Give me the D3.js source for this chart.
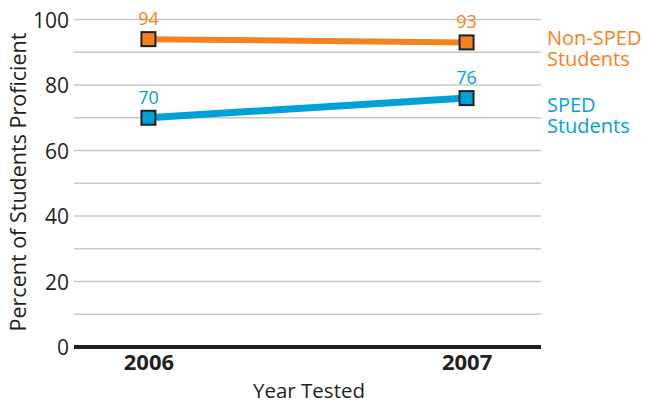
<!DOCTYPE html>
<html>
<head>
<meta charset="utf-8">
<script src="https://cdn.jsdelivr.net/npm/d3@7"></script>
<style>
  body { margin: 0; background: #fff; }
  text { font-family: "Open Sans", "Noto Sans", sans-serif; }
</style>
</head>
<body>
<script>
// data
var years = ["2006", "2007"];
var non_sped = [94, 93];
var sped = [70, 76];
var y_ticks = [0, 20, 40, 60, 80, 100];
var grid_ticks = [10, 20, 30, 40, 50, 60, 70, 80, 90, 100];

var ink = "#231f20",
    orange = "#f58220",
    blue = "#00a1d8";

var svg_w = 646, svg_h = 404,
    plot_left = 74, plot_right = 541, plot_top = 19.5, plot_bottom = 347;

var svg = d3.select("body").append("svg")
        .attr("width", svg_w)
        .attr("height", svg_h);

var scale_x = d3.scalePoint()
        .domain(years)
        .range([plot_left, plot_right])
        .padding(0.234);

var scale_y = d3.scaleLinear()
        .domain([0, 100])
        .range([plot_bottom, plot_top]);

// gridlines
svg.append("g")
        .selectAll("line")
        .data(grid_ticks)
        .join("line")
        .attr("x1", plot_left)
        .attr("x2", plot_right)
        .attr("y1", function(d){return scale_y(d);})
        .attr("y2", function(d){return scale_y(d);})
        .style("stroke", "#c8c8c8")
        .style("stroke-width", 1.3);

// y-axis labels
var y_axis = svg.append("g")
        .attr("transform", "translate(" + plot_left + ",0)")
        .call(d3.axisLeft(scale_y).tickValues(y_ticks).tickSize(0).tickPadding(5));
y_axis.select(".domain").remove();
y_axis.selectAll("text")
        .style("font-size", "21px")
        .style("fill", ink)
        .attr("dy", "0.36em");

// baseline
svg.append("line")
        .attr("x1", plot_left)
        .attr("x2", plot_right)
        .attr("y1", scale_y(0))
        .attr("y2", scale_y(0))
        .style("stroke", ink)
        .style("stroke-width", 4);

// x-axis labels
var x_axis = svg.append("g")
        .attr("transform", "translate(0," + scale_y(0) + ")")
        .call(d3.axisBottom(scale_x).tickSize(0).tickPadding(8));
x_axis.select(".domain").remove();
x_axis.selectAll("text")
        .style("font-size", "22px")
        .style("font-weight", "bold")
        .style("fill", ink)
        .attr("dy", "0.68em");

// axis titles
svg.append("text")
        .text("Year Tested")
        .attr("x", 309)
        .attr("y", 398)
        .attr("text-anchor", "middle")
        .style("font-size", "20.5px")
        .style("fill", ink);

svg.append("text")
        .text("Percent of Students Proficient")
        .attr("transform", "translate(26,182) rotate(-90)")
        .attr("text-anchor", "middle")
        .style("font-size", "21.5px")
        .style("fill", ink);

// series
function add_series(values, color, lw){
    var pts = years.map(function(y, i){return [scale_x(y), scale_y(values[i])];});
    svg.append("path")
            .attr("d", d3.line()(pts))
            .style("stroke", color)
            .style("stroke-width", lw)
            .style("fill", "none");
    svg.append("g").selectAll("rect")
            .data(pts)
            .join("rect")
            .attr("x", function(d){return d[0] - 7;})
            .attr("y", function(d){return d[1] - 7;})
            .attr("width", 14)
            .attr("height", 14)
            .style("fill", color)
            .style("stroke", ink)
            .style("stroke-width", 2);
    svg.append("g").selectAll("text")
            .data(values)
            .join("text")
            .text(function(d){return d;})
            .attr("x", function(d, i){return scale_x(years[i]);})
            .attr("y", function(d){return scale_y(d) - 14;})
            .attr("text-anchor", "middle")
            .style("font-size", "18px")
            .style("fill", color);
}

add_series(non_sped, orange, 6);
add_series(sped, blue, 7);

// legend
function legend(lines, y0, color){
    svg.append("text")
            .attr("x", 547)
            .attr("y", y0)
            .style("font-size", "20px")
            .style("fill", color)
            .selectAll("tspan")
            .data(lines)
            .join("tspan")
            .attr("x", 547)
            .attr("dy", function(d, i){return i ? 21 : 0;})
            .text(function(d){return d;});
}
legend(["Non-SPED", "Students"], 45, orange);
legend(["SPED", "Students"], 112, blue);
</script>
</body>
</html>
